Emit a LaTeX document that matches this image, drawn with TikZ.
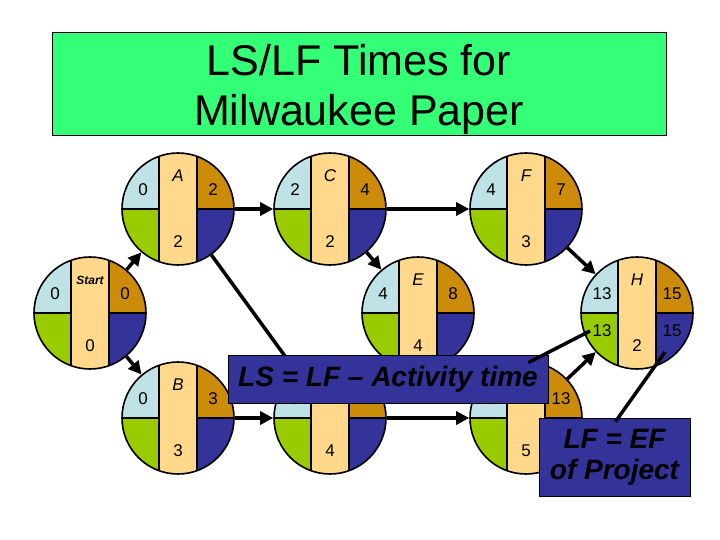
\documentclass[tikz,border=0pt]{standalone}
\usepackage{fontspec}
\setmainfont{Liberation Sans}
\usetikzlibrary{arrows.meta}
\definecolor{cUL}{RGB}{190,226,230}
\definecolor{cLL}{RGB}{153,204,0}
\definecolor{cMid}{RGB}{255,216,140}
\definecolor{cUR}{RGB}{204,140,10}
\definecolor{cLR}{RGB}{51,51,153}
\definecolor{cTitle}{RGB}{51,255,119}
\tikzset{
  num/.style={font=\fontsize{17}{17}\selectfont, inner sep=0},
  arr/.style={line width=3.5pt, -{Triangle[length=13pt,width=13pt]}},
  callline/.style={line width=3.5pt},
  callbox/.style={draw=black, line width=0.8pt, fill=cLR, inner sep=0,
    font=\fontsize{28}{31}\selectfont\bfseries\itshape, align=center},
  titlebox/.style={draw=black, line width=0.8pt, fill=cTitle, inner sep=0,
    minimum width=614pt, minimum height=103pt},
  titletext/.style={inner sep=0, align=center, font=\fontsize{43}{50}\selectfont}
}
\newcommand\nm[1]{{\fontsize{17}{17}\selectfont\itshape #1}}
\newcommand\pertnode[9]{%
\begin{scope}[shift={(#2,#3)}]
  \begin{scope}
    \clip (0,0) circle[radius=56pt];
    \fill[cUL] (-60,-60) rectangle (-19,0);
    \fill[cLL] (-60,0) rectangle (-19,60);
    \fill[cMid] (-19,-60) rectangle (19,60);
    \fill[cUR] (19,-60) rectangle (60,0);
    \fill[cLR] (19,0) rectangle (60,60);
    \draw[line width=1.3pt] (-19,-60) -- (-19,60) (19,-60) -- (19,60)
      (-60,0) -- (-19,0) (19,0) -- (60,0);
  \end{scope}
  \node[circle,draw,line width=1.6pt,minimum size=112pt,inner sep=0] (#1) at (0,0) {};
  \node[num] at (0,-33) {#4};
  \node[num] at (-35,-19) {#5};
  \node[num] at (35,-19) {#6};
  \node[num] at (0,33) {#7};
  \node[num] at (-35,18) {#8};
  \node[num] at (35,18) {#9};
\end{scope}}
\begin{document}
\begin{tikzpicture}[x=1pt,y=-1pt]
\useasboundingbox[fill=white] (0,0) rectangle (720,540);
\node[titlebox] (title) at (359,84) {};
\node[titletext] (titletxt) at (359,89) {LS/LF Times for\\Milwaukee Paper};

\pertnode{S}{90}{313}{{\fontsize{12}{12}\selectfont\bfseries\itshape Start}}{0}{0}{0}{}{}
\pertnode{A}{178}{209}{\nm{A}}{0}{2}{2}{}{}
\pertnode{B}{178}{418}{\nm{B}}{0}{3}{3}{}{}
\pertnode{C}{330}{209}{\nm{C}}{2}{4}{2}{}{}
\pertnode{D}{330}{418}{\nm{D}}{3}{7}{4}{}{}
\pertnode{E}{418}{313}{\nm{E}}{4}{8}{4}{}{}
\pertnode{F}{526}{209}{\nm{F}}{4}{7}{3}{}{}
\pertnode{G}{526}{418}{\nm{G}}{8}{13}{5}{}{}
\pertnode{H}{637}{313}{\nm{H}}{13}{15}{2}{13}{15}

\draw[arr] (S) -- (A);
\draw[arr] (S) -- (B);
\draw[arr] (A) -- (C);
\draw[arr] (A) -- (D);
\draw[arr] (B) -- (D);
\draw[arr] (C) -- (E);
\draw[arr] (C) -- (F);
\draw[arr] (D) -- (G);
\draw[arr] (F) -- (H);
\draw[arr] (G) -- (H);

\node[callbox, minimum width=320pt, minimum height=48pt] (ls) at (388,379) {LS = LF -- Activity time};
\node[callbox, minimum width=151pt, minimum height=78pt] (lf) at (614.5,457) {LF = EF\\of Project};

\coordinate (lsend) at ([shift={(-47,18)}]H.center);
\coordinate (lfend) at ([shift={(28,39)}]H.center);
\draw[callline] ([shift={(-20,8)}]ls.north east) -- (lsend);
\draw[callline] ([shift={(1,4)}]lf.north) -- (lfend);
\end{tikzpicture}
\end{document}
